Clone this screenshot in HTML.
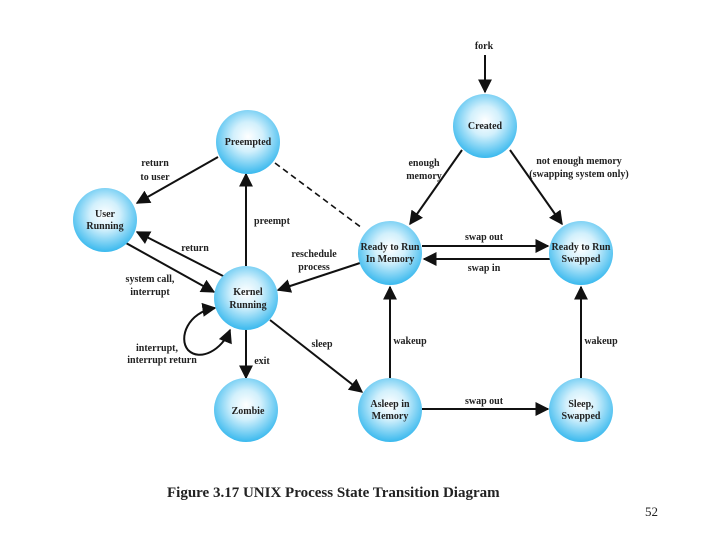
<!DOCTYPE html>
<html><head><style>body{margin:0;background:#fff}svg{display:block}text{font-family:"Liberation Serif",serif;font-size:10px;font-weight:bold;fill:#222}</style></head><body>
<svg width="720" height="540" viewBox="0 0 720 540">
<defs>
<radialGradient id="g" cx="50%" cy="42%" r="58%"><stop offset="0" stop-color="#ffffff"/><stop offset="0.4" stop-color="#d2f0fc"/><stop offset="1" stop-color="#3ab9ee"/></radialGradient>
<marker id="a" viewBox="0 0 10 10" refX="9" refY="5" markerWidth="7" markerHeight="7" orient="auto"><path d="M0,0L10,5L0,10z" fill="#111"/></marker>
<marker id="s" viewBox="0 0 10 10" refX="1" refY="5" markerWidth="7" markerHeight="7" orient="auto"><path d="M10,0L0,5L10,10z" fill="#111"/></marker>
</defs>
<g stroke="#111" stroke-width="2" fill="none" marker-end="url(#a)">
<line x1="485" y1="55" x2="485" y2="92"/>
<line x1="462" y1="150" x2="410" y2="224"/>
<line x1="510" y1="150" x2="562" y2="224"/>
<line x1="422" y1="246" x2="548" y2="246"/>
<line x1="550" y1="259" x2="424" y2="259"/>
<line x1="422" y1="409" x2="548" y2="409"/>
<line x1="390" y1="378" x2="390" y2="287"/>
<line x1="581" y1="378" x2="581" y2="287"/>
<line x1="360" y1="263" x2="278" y2="290"/>
<line x1="246" y1="266" x2="246" y2="174"/>
<line x1="218" y1="157" x2="137" y2="203"/>
<line x1="225" y1="277" x2="137" y2="232"/>
<line x1="126" y1="243" x2="214" y2="292"/>
<line x1="246" y1="330" x2="246" y2="378"/>
<line x1="270" y1="320" x2="362" y2="392"/>
<path d="M230,330 C222,350 200,362 188,350 C178,338 188,312 215,308" marker-start="url(#s)"/>
</g>
<line x1="275" y1="163" x2="362" y2="228" stroke="#111" stroke-width="1.6" stroke-dasharray="6,4"/>
<g fill="url(#g)">
<circle cx="485" cy="126" r="32"/><circle cx="248" cy="142" r="32"/><circle cx="105" cy="220" r="32"/>
<circle cx="390" cy="253" r="32"/><circle cx="581" cy="253" r="32"/><circle cx="246" cy="298" r="32"/>
<circle cx="246" cy="410" r="32"/><circle cx="390" cy="410" r="32"/><circle cx="581" cy="410" r="32"/>
</g>
<g text-anchor="middle">
<text x="485" y="129">Created</text>
<text x="248" y="145">Preempted</text>
<text x="105" y="217">User</text><text x="105" y="229">Running</text>
<text x="390" y="250">Ready to Run</text><text x="390" y="262">In Memory</text>
<text x="581" y="250">Ready to Run</text><text x="581" y="262">Swapped</text>
<text x="248" y="295">Kernel</text><text x="248" y="308">Running</text>
<text x="248" y="414">Zombie</text>
<text x="390" y="407">Asleep in</text><text x="390" y="419">Memory</text>
<text x="581" y="407">Sleep,</text><text x="581" y="419">Swapped</text>
<text x="484" y="49">fork</text>
<text x="424" y="166">enough</text><text x="424" y="179">memory</text>
<text x="579" y="164">not enough memory</text><text x="579" y="177">(swapping system only)</text>
<text x="484" y="240">swap out</text><text x="484" y="271">swap in</text>
<text x="484" y="404">swap out</text>
<text x="410" y="344">wakeup</text><text x="601" y="344">wakeup</text>
<text x="155" y="166">return</text><text x="155" y="180">to user</text>
<text x="272" y="224">preempt</text>
<text x="195" y="251">return</text>
<text x="314" y="257">reschedule</text><text x="314" y="270">process</text>
<text x="150" y="282">system call,</text><text x="150" y="295">interrupt</text>
<text x="322" y="347">sleep</text>
<text x="262" y="364">exit</text>
<text x="157" y="351">interrupt,</text><text x="162" y="363">interrupt return</text>
</g>
<text x="167" y="497" style="font-size:15px">Figure 3.17   UNIX Process State Transition Diagram</text>
<text x="645" y="516" style="font-size:13px;font-weight:normal">52</text>
</svg>
</body></html>
